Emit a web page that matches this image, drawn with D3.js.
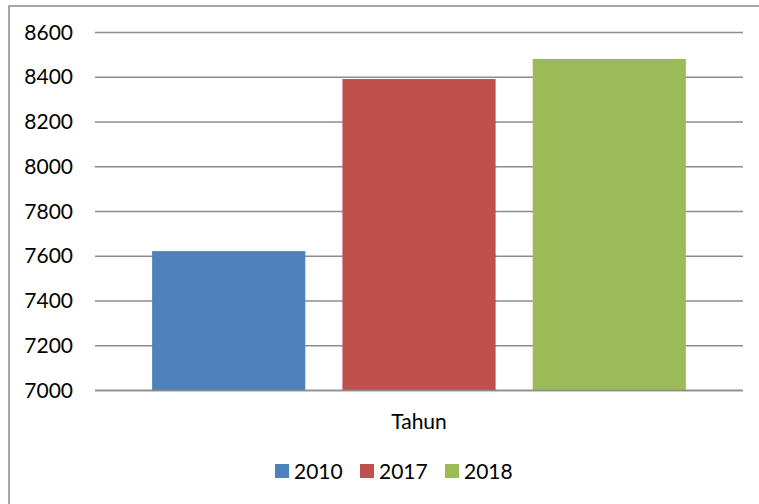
<!DOCTYPE html>
<html>
<head>
<meta charset="utf-8">
<script src="https://cdn.jsdelivr.net/npm/d3@7"></script>
<style>
  body { margin: 0; background: #fff; }
  text { font-family: Lato, "Open Sans", sans-serif; fill: #000; }
</style>
</head>
<body>
<div id="container"></div>
<script>
/* DATA */
const category = ["Tahun"];
const years = ["2010", "2017", "2018"];
const values = [7623, 8392, 8482];
const colors = ["#4f81bd", "#c0504d", "#9bbb59"];
const yTicks = [7000, 7200, 7400, 7600, 7800, 8000, 8200, 8400, 8600];

/* LAYOUT */
const width = 759, height = 504;
const plot = { left: 95, right: 743, top: 32.5, bottom: 390.5 };
const fontSize = 21;

const svg = d3.select("#container")
  .append("svg")
  .attr("width", width)
  .attr("height", height);

// outer frame
svg.append("rect")
  .attr("x", 9).attr("y", 6)
  .attr("width", 780).attr("height", 520)
  .attr("fill", "none")
  .attr("stroke", "#8a8a8a")
  .attr("stroke-width", 1.5);

// SCALES
const y = d3.scaleLinear()
  .domain([7000, 8600])
  .range([plot.bottom, plot.top]);

const x0 = d3.scaleBand()
  .domain(category)
  .range([plot.left, plot.right])
  .paddingInner(0)
  .paddingOuter(0.107);

const x1 = d3.scaleBand()
  .domain(years)
  .range([0, x0.bandwidth()])
  .paddingInner(0.195)
  .paddingOuter(0);

const color = d3.scaleOrdinal().domain(years).range(colors);

// GRIDLINES
svg.selectAll("line.grid")
  .data(yTicks)
  .join("line")
  .attr("class", "grid")
  .attr("x1", plot.left).attr("x2", plot.right)
  .attr("y1", d => y(d)).attr("y2", d => y(d))
  .attr("stroke", "#8c8c8c")
  .attr("stroke-width", 1.6);

// Y AXIS LABELS
const yAxis = d3.axisLeft(y).tickValues(yTicks).tickFormat(d3.format("d")).tickSize(0).tickPadding(0);
const gy = svg.append("g")
  .attr("transform", `translate(73,0)`)
  .call(yAxis);
gy.select(".domain").remove();
gy.selectAll("text")
  .style("font-family", "Lato, 'Open Sans', sans-serif")
  .attr("font-size", fontSize)
  .attr("fill", "#000");

// BARS
const bars = values.map((v, i) => ({ year: years[i], value: v }));
svg.append("g")
  .attr("transform", `translate(${x0("Tahun")},0)`)
  .selectAll("rect.bar")
  .data(bars)
  .join("rect")
  .attr("class", "bar")
  .attr("x", d => x1(d.year))
  .attr("width", x1.bandwidth())
  .attr("y", d => y(d.value))
  .attr("height", d => y(7000) - y(d.value))
  .attr("fill", d => color(d.year));

// baseline on top of bars
svg.append("line")
  .attr("x1", plot.left).attr("x2", plot.right)
  .attr("y1", y(7000)).attr("y2", y(7000))
  .attr("stroke", "#8c8c8c")
  .attr("stroke-width", 1.6);

// CATEGORY LABEL
svg.append("text")
  .attr("x", x0("Tahun") + x0.bandwidth() / 2)
  .attr("y", 429)
  .attr("text-anchor", "middle")
  .attr("font-size", fontSize)
  .text(category[0]);

// LEGEND
const legend = svg.selectAll("g.legend")
  .data(years)
  .join("g")
  .attr("class", "legend")
  .attr("transform", (d, i) => `translate(${275 + i * 85},464)`);

legend.append("rect")
  .attr("width", 14).attr("height", 14)
  .attr("fill", d => color(d));

legend.append("text")
  .attr("x", 19)
  .attr("y", 14.5)
  .attr("font-size", fontSize)
  .text(d => d);
</script>
</body>
</html>
